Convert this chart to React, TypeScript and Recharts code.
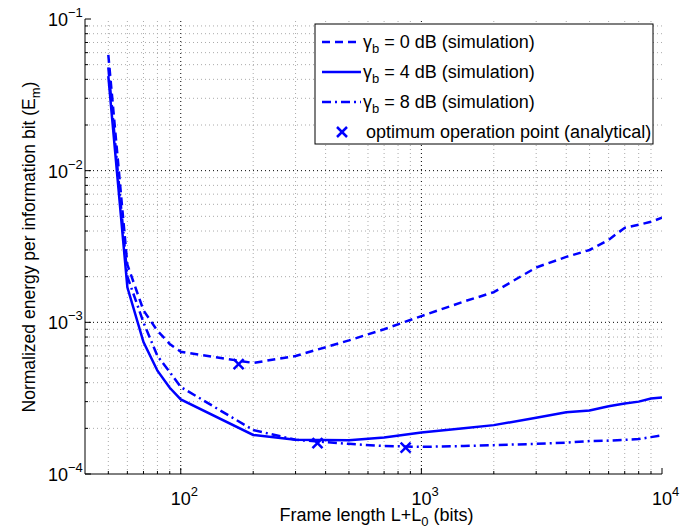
import { ComposedChart, Line, Scatter, XAxis, YAxis, ReferenceLine } from "recharts";

const FONT = '"Liberation Sans", Arial, Helvetica, sans-serif';
const BLUE = "#0000ff";
const FS = 18;
const FS_SMALL = 13;

// simulation points (frame length L+L0 in bits)
const frameLen = [50, 60, 70, 80, 90, 100, 200, 300, 500, 700, 1000, 1500, 2000, 3000, 4000, 5000, 6000, 7000, 8000, 9000, 10000];
const energy0dB = [5.8e-2, 2.4e-3, 1.2e-3, 8.8e-4, 7.2e-4, 6.4e-4, 5.4e-4, 6.0e-4, 7.6e-4, 9.0e-4, 1.1e-3, 1.37e-3, 1.58e-3, 2.3e-3, 2.7e-3, 3.0e-3, 3.5e-3, 4.2e-3, 4.4e-3, 4.6e-3, 4.9e-3];
const energy4dB = [4.2e-2, 1.7e-3, 7.4e-4, 4.8e-4, 3.7e-4, 3.1e-4, 1.81e-4, 1.68e-4, 1.67e-4, 1.74e-4, 1.88e-4, 2.0e-4, 2.1e-4, 2.35e-4, 2.55e-4, 2.62e-4, 2.8e-4, 2.92e-4, 3.0e-4, 3.15e-4, 3.2e-4];
const energy8dB = [4.8e-2, 2.0e-3, 1.0e-3, 6.0e-4, 4.7e-4, 3.75e-4, 1.95e-4, 1.68e-4, 1.58e-4, 1.53e-4, 1.51e-4, 1.53e-4, 1.55e-4, 1.58e-4, 1.61e-4, 1.65e-4, 1.66e-4, 1.68e-4, 1.7e-4, 1.75e-4, 1.8e-4];

// analytical optimum points
const optLen = [174, 370, 860];
const optEnergy = [5.3e-4, 1.6e-4, 1.49e-4];

// tick values (decades + minor)
const xTicks = [50, 60, 70, 80, 90, 100, 200, 300, 400, 500, 600, 700, 800, 900, 1000, 2000, 3000, 4000, 5000, 6000, 7000, 8000, 9000, 10000];
const yTicks = [
  1e-4, 2e-4, 3e-4, 4e-4, 5e-4, 6e-4, 7e-4, 8e-4, 9e-4,
  1e-3, 2e-3, 3e-3, 4e-3, 5e-3, 6e-3, 7e-3, 8e-3, 9e-3,
  1e-2, 2e-2, 3e-2, 4e-2, 5e-2, 6e-2, 7e-2, 8e-2, 9e-2, 1e-1,
];

const toRows = (ys: number[]) => frameLen.map((x, i) => ({ x, y: ys[i] }));
const s0 = toRows(energy0dB);
const s4 = toRows(energy4dB);
const s8 = toRows(energy8dB);
const optima = optLen.map((x, i) => ({ x, y: optEnergy[i] }));

const isMajor = (v: number) => Math.abs(Math.log10(v) - Math.round(Math.log10(v))) < 1e-6;
const expOf = (v: number) => Math.round(Math.log10(v));

const BottomTick = (props: any) => {
  const { x, y, payload } = props;
  const v = payload.value;
  const major = isMajor(v);
  return (
    <g>
      <line x1={x} x2={x} y1={y} y2={y - (major ? 6 : 3)} stroke="#000" />
      {major && (
        <text x={x - 10} y={y + 31} fontSize={FS} fontFamily={FONT} fill="#000">
          10<tspan dy={-9} fontSize={FS_SMALL}>{expOf(v)}</tspan>
        </text>
      )}
    </g>
  );
};

const TopTick = (props: any) => {
  const { x, y, payload } = props;
  const major = isMajor(payload.value);
  return <line x1={x} x2={x} y1={y} y2={y + (major ? 6 : 3)} stroke="#000" />;
};

const LeftTick = (props: any) => {
  const { x, y, payload } = props;
  const v = payload.value;
  const major = isMajor(v);
  return (
    <g>
      <line x1={x} x2={x + (major ? 6 : 3)} y1={y} y2={y} stroke="#000" />
      {major && (
        <text x={x - 37} y={y + 7} fontSize={FS} fontFamily={FONT} fill="#000">
          10<tspan dy={-9} fontSize={FS_SMALL}>{"\u2212" + Math.abs(expOf(v))}</tspan>
        </text>
      )}
    </g>
  );
};

const RightTick = (props: any) => {
  const { x, y, payload } = props;
  const major = isMajor(payload.value);
  return <line x1={x} x2={x - (major ? 6 : 3)} y1={y} y2={y} stroke="#000" />;
};

const XMark = (props: any) => {
  const { cx, cy } = props;
  const r = 5;
  return (
    <g stroke={BLUE} strokeWidth={2.5}>
      <line x1={cx - r} y1={cy - r} x2={cx + r} y2={cy + r} />
      <line x1={cx - r} y1={cy + r} x2={cx + r} y2={cy - r} />
    </g>
  );
};

const XTitle = (props: any) => {
  const { viewBox } = props;
  const cx = viewBox.x + viewBox.width / 2 + 3;
  return (
    <text x={cx} y={521} textAnchor="middle" fontSize={FS} fontFamily={FONT} fill="#000">
      Frame length L+L<tspan dy={5} fontSize={FS_SMALL}>0</tspan>
      <tspan dy={-5}> (bits)</tspan>
    </text>
  );
};

const YTitle = () => (
  <text x={35} y={247} transform="rotate(-90 35 247)" textAnchor="middle" fontSize={17.5} fontFamily={FONT} fill="#000">
    Normalized energy per information bit (E<tspan dy={5} fontSize={FS_SMALL}>m</tspan>
    <tspan dy={-5}>)</tspan>
  </text>
);

const legendRows = [
  { dash: "8 5", label: "0 dB (simulation)" },
  { dash: undefined, label: "4 dB (simulation)" },
  { dash: "9 4 2 4", label: "8 dB (simulation)" },
];

function LegendBox() {
  return (
    <svg width={689} height={528} style={{ position: "absolute", left: 0, top: 0, pointerEvents: "none" }}>
      <rect x={315} y={24} width={338} height={120} fill="#fff" stroke="#000" strokeWidth={1} />
      {legendRows.map((r, i) => {
        const cy = 42 + i * 30;
        return (
          <g key={i}>
            <line x1={322} x2={361} y1={cy} y2={cy} stroke={BLUE} strokeWidth={2.5} strokeDasharray={r.dash} />
            <text x={363} y={cy + 6} fontSize={FS} fontFamily={FONT} fill="#000">
              γ<tspan dy={5} fontSize={FS_SMALL}>b</tspan>
              <tspan dy={-5}>{" = " + r.label}</tspan>
            </text>
          </g>
        );
      })}
      <XMark cx={342} cy={132} />
      <text x={366} y={138} fontSize={FS} fontFamily={FONT} fill="#000">
        optimum operation point (analytical)
      </text>
    </svg>
  );
}

export default function App() {
  const gridX = xTicks.filter((v) => v < 10000);
  const gridY = yTicks.filter((v) => v > 1e-4 && v < 1e-1);
  return (
    <div style={{ position: "absolute", left: 0, top: 0, width: 689, height: 528, background: "#fff" }}>
      <ComposedChart width={689} height={528} margin={{ top: 19, right: 27, bottom: 0, left: 0 }}>
        <XAxis
          dataKey="x"
          type="number"
          scale="log"
          domain={[40, 10000]}
          allowDataOverflow
          ticks={xTicks}
          interval={0}
          tickSize={0}
          tickMargin={0}
          tick={BottomTick}
          height={54}
          axisLine={{ stroke: "#000" }}
          label={<XTitle />}
        />
        <XAxis
          xAxisId="top"
          orientation="top"
          dataKey="x"
          type="number"
          scale="log"
          domain={[40, 10000]}
          allowDataOverflow
          ticks={xTicks}
          interval={0}
          tickSize={0}
          tickMargin={0}
          tick={TopTick}
          height={0}
          axisLine={{ stroke: "#000" }}
        />
        <YAxis
          type="number"
          scale="log"
          domain={[1e-4, 1e-1]}
          allowDataOverflow
          ticks={yTicks}
          interval={0}
          tickSize={0}
          tickMargin={0}
          tick={LeftTick}
          width={85}
          axisLine={{ stroke: "#000" }}
          label={<YTitle />}
        />
        <YAxis
          yAxisId="right"
          orientation="right"
          type="number"
          scale="log"
          domain={[1e-4, 1e-1]}
          allowDataOverflow
          ticks={yTicks}
          interval={0}
          tickSize={0}
          tickMargin={0}
          tick={RightTick}
          width={0}
          axisLine={{ stroke: "#000" }}
        />
        {gridX.map((v) => (
          <ReferenceLine key={"gx" + v} x={v} stroke={isMajor(v) ? "#000" : "#aaa"} strokeDasharray="1 3" />
        ))}
        {gridY.map((v) => (
          <ReferenceLine key={"gy" + v} y={v} stroke={isMajor(v) ? "#000" : "#aaa"} strokeDasharray="1 3" />
        ))}
        <Line data={s0} dataKey="y" type="linear" stroke={BLUE} strokeWidth={2.5} strokeDasharray="8 5" dot={false} isAnimationActive={false} />
        <Line data={s4} dataKey="y" type="linear" stroke={BLUE} strokeWidth={2.5} dot={false} isAnimationActive={false} />
        <Line data={s8} dataKey="y" type="linear" stroke={BLUE} strokeWidth={2.5} strokeDasharray="9 4 2 4" dot={false} isAnimationActive={false} />
        <Scatter data={optima} dataKey="y" shape={XMark} isAnimationActive={false} />
      </ComposedChart>
      <LegendBox />
    </div>
  );
}
